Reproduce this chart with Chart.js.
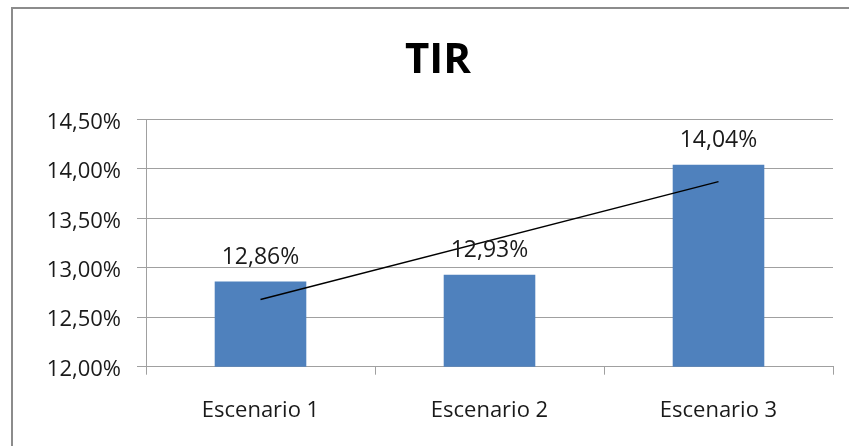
<!DOCTYPE html>
<html>
<head>
<meta charset="utf-8">
<script src="https://cdn.jsdelivr.net/npm/chart.js@4"></script>
<style>
  html, body { margin: 0; padding: 0; background: #fff; overflow: hidden; width: 849px; height: 446px; }
  #frame { position: absolute; left: 11px; top: 7px; width: 900px; height: 500px;
           border-left: 2px solid #8c8c8c; border-top: 2px solid #8c8c8c; }
  #c { position: absolute; left: 0; top: 0; }
</style>
</head>
<body>
<div id="frame"><canvas id="c" width="850" height="437"></canvas></div>
<script>
const categories = ['Escenario 1', 'Escenario 2', 'Escenario 3'];
const tirValues = [12.86, 12.93, 14.04];
const trendValues = [12.68, null, 13.87];
const yTickLabels = ['12,00%', '12,50%', '13,00%', '13,50%', '14,00%', '14,50%'];

const fmtPct = v => v.toFixed(2).replace('.', ',') + '%';
const gridColor = '#a0a0a0';
const textColor = '#1a1a1a';

const valueLabels = {
  id: 'valueLabels',
  afterDatasetsDraw(chart) {
    const ctx = chart.ctx;
    const meta = chart.getDatasetMeta(0);
    ctx.save();
    ctx.font = '23px "Open Sans"';
    ctx.fillStyle = textColor;
    ctx.textAlign = 'center';
    ctx.textBaseline = 'alphabetic';
    meta.data.forEach((el, i) => {
      ctx.fillText(fmtPct(tirValues[i]), el.x, el.y - 18);
    });
    ctx.restore();
  }
};

new Chart(document.getElementById('c'), {
  type: 'bar',
  data: {
    labels: categories,
    datasets: [
      {
        type: 'bar',
        label: 'TIR',
        data: tirValues,
        backgroundColor: '#4F81BD',
        borderWidth: 0,
        categoryPercentage: 1,
        barPercentage: 0.4,
        order: 2
      },
      {
        type: 'line',
        label: 'Tendencia',
        data: trendValues,
        borderColor: '#000000',
        borderWidth: 1.5,
        pointRadius: 0,
        spanGaps: true,
        fill: false,
        tension: 0,
        order: 1
      }
    ]
  },
  options: {
    responsive: false,
    maintainAspectRatio: false,
    animation: false,
    devicePixelRatio: 1,
    layout: { padding: { left: 30, right: 30, top: 0, bottom: 19.3 } },
    plugins: {
      legend: { display: false },
      tooltip: { enabled: false },
      title: {
        display: true,
        text: 'TIR',
        color: '#000',
        font: { family: '"Open Sans"', size: 42, weight: 'bold' },
        padding: { top: 26.5, bottom: 33.4 }
      }
    },
    scales: {
      x: {
        grid: { display: true, drawOnChartArea: false, drawTicks: true, tickLength: 8, color: gridColor, offset: true },
        border: { color: gridColor },
        ticks: { color: textColor, font: { family: '"Open Sans"', size: 22 }, padding: 23, maxRotation: 0 },
        afterFit(scale) { scale.height = 60; }
      },
      y: {
        min: 12,
        max: 14.5,
        ticks: {
          stepSize: 0.5,
          color: textColor,
          font: { family: '"Open Sans"', size: 22 },
          padding: 16,
          labelOffset: 3,
          callback: (value, index) => yTickLabels[index]
        },
        grid: { color: gridColor, tickLength: 9, drawTicks: true },
        border: { color: gridColor },
        afterFit(scale) { scale.width = 103; }
      }
    }
  },
  plugins: [valueLabels]
});
</script>
</body>
</html>
